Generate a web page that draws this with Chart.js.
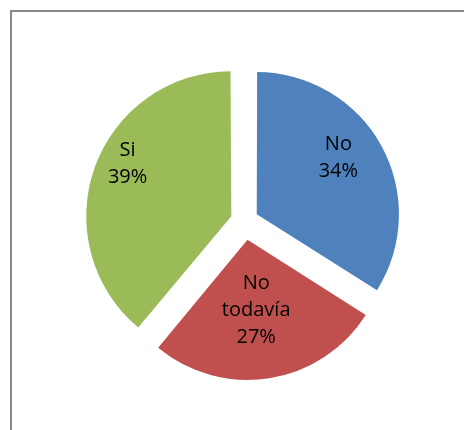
<!DOCTYPE html>
<html>
<head>
<meta charset="utf-8">
<script src="https://cdn.jsdelivr.net/npm/chart.js@4"></script>
<style>
    html, body {
        margin: 0;
        padding: 0;
        background: #ffffff;
    }

    .wrap {
        position: relative;
        width: 464px;
        height: 430px;
        overflow: hidden;
    }

    .frame {
        position: absolute;
        left: 10px;
        top: 10px;
        width: 500px;
        height: 500px;
        border-left: 2px solid #898989;
        border-top: 2px solid #898989;
    }

    canvas {
        position: absolute;
        left: 0;
        top: 0;
    }
</style>
</head>
<body>
<div class="wrap">
    <div class="frame"></div>
    <canvas id="chart" width="464" height="430"></canvas>
</div>

<script>
    // data
    const categories = [['No'], ['No', 'todavía'], ['Si']];
    const shares = [34, 27, 39];
    const sliceColors = ['#4F81BD', '#C0504D', '#9BBB59'];

    // how far each slice is pulled out, and where its label sits
    const explode = [56, 76, 56];
    const labelRadius = [0.71, 0.51, 0.83];
    const labelTurn = [-6, 2, 7];   // degrees off the slice middle

    const sliceLabels = {
        id: 'sliceLabels',
        afterDatasetsDraw(chart) {
            const ctx = chart.ctx;
            const meta = chart.getDatasetMeta(0);
            ctx.save();
            ctx.font = '20px "Open Sans", sans-serif';
            ctx.fillStyle = '#000000';
            ctx.textAlign = 'center';
            ctx.textBaseline = 'middle';
            meta.data.forEach((arc, i) => {
                const mid = (arc.startAngle + arc.endAngle) / 2;
                const shift = explode[i] / 4;
                const a = mid + labelTurn[i] * Math.PI / 180;
                const r = arc.outerRadius * labelRadius[i];
                const x = arc.x + Math.cos(mid) * shift + Math.cos(a) * r;
                const y = arc.y + Math.sin(mid) * shift + Math.sin(a) * r;
                const lines = categories[i].concat([shares[i] + '%']);
                const lh = 27;
                const top = y - (lines.length - 1) * lh / 2;
                lines.forEach((t, k) => ctx.fillText(t, x, top + k * lh));
            });
            ctx.restore();
        }
    };

    new Chart(document.getElementById('chart'), {
        type: 'pie',
        data: {
            labels: categories.map(c => c.join(' ')),
            datasets: [{
                data: shares,
                backgroundColor: sliceColors,
                borderWidth: 0,
                offset: explode
            }]
        },
        options: {
            responsive: false,
            animation: false,
            events: [],
            radius: 140,
            layout: {
                padding: {left: 25, right: 0, top: 12, bottom: 0}
            },
            plugins: {
                legend: {display: false},
                tooltip: {enabled: false}
            }
        },
        plugins: [sliceLabels]
    });
</script>
</body>
</html>
